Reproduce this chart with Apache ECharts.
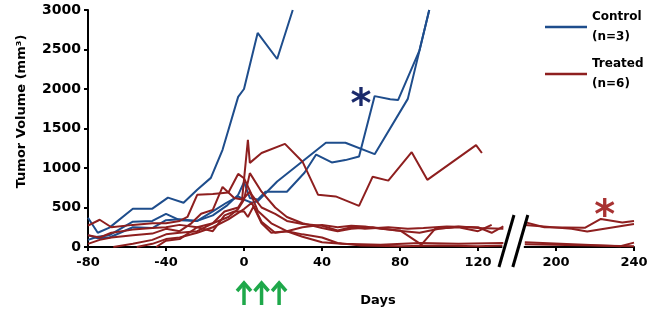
<!DOCTYPE html>
<html>
<head>
<meta charset="utf-8">
<script src="https://cdn.jsdelivr.net/npm/echarts@6/dist/echarts.min.js"></script>
<style>
html, body { margin: 0; padding: 0; background: #fff; }
#chart { width: 650px; height: 315px; }
</style>
</head>
<body>
<div id="chart"></div>
<script>
// x = days, y = tumour volume (mm3)
const yTicks = [0, 500, 1000, 1500, 2000, 2500, 3000]
const xTicks = [-80, -40, 0, 40, 80, 120, 200, 240]

// the axis is broken between these days, everything after is shifted left
const breakStart = 135
const breakEnd = 175
const breakShift = 40

const control1 = [[-80, 370], [-75, 180], [-69, 245], [-57, 485], [-47, 485], [-39, 625], [-31, 560], [-24, 725], [-17, 875], [-11, 1230], [-8, 1480], [-3, 1900], [0, 2000], [7, 2710], [17, 2380], [25, 3000]]
const control2 = [[-80, 90], [-75, 130], [-69, 150], [-57, 320], [-47, 330], [-40, 420], [-33, 340], [-24, 330], [-16, 400], [-9, 520], [-3, 660], [0, 820], [3, 620], [7, 600], [11, 700], [22, 700], [31, 940], [37, 1170], [45, 1070], [52, 1100], [59, 1145], [67, 1910], [75, 1870], [79, 1860], [90, 2490], [95, 3000]]
const control3 = [[-80, 150], [-75, 110], [-69, 120], [-57, 250], [-47, 240], [-40, 340], [-33, 350], [-24, 330], [-16, 450], [-9, 560], [-3, 640], [0, 600], [4, 560], [7, 580], [17, 830], [42, 1320], [52, 1320], [67, 1175], [84, 1875], [95, 3000]]

const treated1 = [[-80, 40], [-74, 90], [-68, 120], [-57, 150], [-47, 170], [-40, 230], [-33, 200], [-27, 300], [-22, 420], [-16, 470], [-11, 760], [-5, 620], [-1, 600], [2, 1355], [3, 1065], [9, 1190], [21, 1305], [30, 1080], [38, 660], [47, 640], [59, 520], [66, 890], [74, 840], [86, 1200], [94, 850], [119, 1290], [122, 1190]]
const treated2 = [[-80, 270], [-74, 345], [-68, 250], [-57, 280], [-47, 300], [-40, 300], [-33, 330], [-29, 380], [-24, 660], [-16, 670], [-8, 690], [-3, 925], [0, 870], [4, 660], [9, 500], [16, 420], [22, 330], [30, 290], [40, 270], [48, 210], [55, 250], [62, 230], [74, 250], [84, 230], [92, 240], [104, 260], [120, 250], [127, 180], [133, 260], [184, 315], [194, 250], [215, 245], [223, 355], [234, 310], [240, 330]]
const treated3 = [[-80, 150], [-74, 120], [-68, 180], [-57, 220], [-47, 240], [-40, 250], [-33, 280], [-24, 250], [-16, 300], [-8, 380], [-3, 480], [0, 600], [3, 935], [9, 700], [16, 500], [22, 380], [30, 300], [40, 240], [48, 200], [55, 230], [66, 250], [78, 210], [90, 180], [100, 230], [110, 260], [120, 240], [133, 230], [184, 280], [208, 230], [216, 195], [240, 290]]
const treated4 = [[-67, 0], [-57, 40], [-47, 90], [-40, 160], [-33, 180], [-24, 200], [-16, 300], [-10, 450], [-3, 500], [0, 620], [3, 700], [7, 460], [14, 300], [22, 200], [30, 130], [40, 60], [50, 40], [70, 30], [90, 50], [110, 40], [133, 50], [184, 60], [233, 10], [240, 55]]
const treated5 = [[-55, 0], [-47, 40], [-40, 100], [-33, 120], [-24, 180], [-16, 250], [-8, 350], [0, 480], [4, 560], [9, 300], [14, 180], [22, 200], [30, 160], [40, 120], [48, 50], [60, 20], [80, 10], [100, 20], [120, 10], [133, 20], [184, 35], [240, 10]]
const treated6 = [[-45, 0], [-40, 80], [-33, 100], [-24, 250], [-16, 200], [-10, 400], [-5, 450], [0, 450], [2, 380], [5, 520], [9, 320], [16, 180], [22, 200], [30, 250], [40, 280], [48, 250], [55, 270], [62, 260], [70, 230], [80, 210], [91, 30], [98, 230], [110, 250], [120, 200], [127, 280]]

const treatmentDays = [0, 9, 18]
const controlStar = [60, 1900]
const treatedStar = [225, 500]

const blue = '#1e4d8c'
const red = '#8e1f1f'
const font = 'DejaVu Sans'

const toAxis = (day) => (day > breakStart ? day - breakShift : day)
const toDay = (v) => (v > breakStart ? v + breakShift : v)

// split a mouse's curve at the break so no line crosses it
function segments(points) {
	const left = points.filter(p => p[0] <= breakStart)
	const right = points.filter(p => p[0] >= breakEnd)
	return [left, right].filter(s => s.length).map(s => s.map(p => [toAxis(p[0]), p[1]]))
}

function lineSeries(name, color, points) {
	return segments(points).map(data => ({
		name: name,
		type: 'line',
		data: data,
		symbol: 'none',
		lineStyle: { color: color, width: 2 },
		itemStyle: { color: color },
		emphasis: { disabled: true }
	}))
}

const series = [].concat(
	...[control1, control2, control3].map(d => lineSeries('Control', blue, d)),
	...[treated1, treated2, treated3, treated4, treated5, treated6].map(d => lineSeries('Treated', red, d))
)

const chart = echarts.init(document.getElementById('chart'))
chart.setOption({
	animation: false,
	grid: { left: 88, right: 16, top: 10, bottom: 68, outerBoundsMode: 'none' },
	legend: {
		data: ['Control', 'Treated'],
		orient: 'vertical',
		left: 545,
		top: -3,
		padding: 0,
		icon: 'rect',
		itemWidth: 42,
		itemHeight: 2.5,
		itemGap: -13,
		formatter: name => name + (name === 'Control' ? '\n(n=3)' : '\n(n=6)'),
		textStyle: {
			fontFamily: font,
			fontWeight: 'bold',
			fontSize: 12,
			lineHeight: 20,
			color: '#000',
			padding: [20, 0, 0, 0]
		}
	},
	xAxis: {
		type: 'value',
		min: toAxis(xTicks[0]),
		max: toAxis(xTicks[xTicks.length - 1]),
		interval: 40,
		name: 'Days',
		nameLocation: 'middle',
		nameGap: 47,
		nameTextStyle: { fontFamily: font, fontWeight: 'bold', fontSize: 13, color: '#000', padding: [0, 0, 0, 34] },
		axisLine: { onZero: false, lineStyle: { color: '#000', width: 2 } },
		axisTick: { show: true, length: 4, lineStyle: { color: '#000', width: 2 } },
		axisLabel: {
			margin: 9,
			fontFamily: font,
			fontWeight: 'bold',
			fontSize: 13,
			color: '#000',
			formatter: v => String(toDay(v))
		},
		splitLine: { show: false }
	},
	yAxis: {
		type: 'value',
		min: yTicks[0],
		max: yTicks[yTicks.length - 1],
		interval: 500,
		name: 'Tumor Volume (mm³)',
		nameLocation: 'middle',
		nameRotate: 90,
		nameGap: 60,
		nameTextStyle: { fontFamily: font, fontWeight: 'bold', fontSize: 13, color: '#000', padding: [0, 0, 0, 34] },
		axisLine: { show: true, onZero: false, lineStyle: { color: '#000', width: 2 } },
		axisTick: { show: true, inside: false, length: 4, lineStyle: { color: '#000', width: 2 } },
		axisLabel: { margin: 7, fontFamily: font, fontWeight: 'bold', fontSize: 14, color: '#000', formatter: v => String(v) },
		splitLine: { show: false }
	},
	series: series
})

// decorations: axis break, treatment arrows, significance stars
const px = (x, y) => chart.convertToPixel({ gridIndex: 0 }, [x, y])
const axisY = px(0, 0)[1]
const gapL = px(breakStart - 2.5, 0)[0]
const gapR = px(breakStart + 8.5, 0)[0]
const graphics = [
	{ type: 'rect', z: 100, shape: { x: gapL, y: axisY - 3, width: gapR - gapL, height: 6 }, style: { fill: '#fff' } }
]
;[breakStart - 0.4, breakStart + 6.7].forEach(v => {
	const x = px(v, 0)[0]
	graphics.push({
		type: 'line', z: 101,
		shape: { x1: x + 7.5, y1: axisY - 32, x2: x - 7.5, y2: axisY + 20 },
		style: { stroke: '#000', lineWidth: 3 }
	})
})
treatmentDays.forEach(d => {
	const x = px(d, 0)[0]
	graphics.push({
		type: 'line', z: 101,
		shape: { x1: x, y1: axisY + 37, x2: x, y2: axisY + 58 },
		style: { stroke: '#1ea84a', lineWidth: 3.5 }
	})
	graphics.push({
		type: 'polyline', z: 101,
		shape: { points: [[x - 7, axisY + 44], [x, axisY + 36], [x + 7, axisY + 44]] },
		style: { stroke: '#1ea84a', lineWidth: 3.5, fill: null }
	})
})
const starBlue = px(controlStar[0], controlStar[1])
const starRed = px(toAxis(treatedStar[0]), treatedStar[1])
graphics.push({
	type: 'text', z: 102, x: starBlue[0], y: starBlue[1] + 10,
	style: { text: '*', font: 'bold 40px "DejaVu Sans"', fill: '#1b2a6b', align: 'center', verticalAlign: 'middle' }
})
graphics.push({
	type: 'text', z: 102, x: starRed[0], y: starRed[1] + 10,
	style: { text: '*', font: 'bold 40px "DejaVu Sans"', fill: '#a83232', align: 'center', verticalAlign: 'middle' }
})
chart.setOption({ graphic: { elements: graphics } })
</script>
</body>
</html>
